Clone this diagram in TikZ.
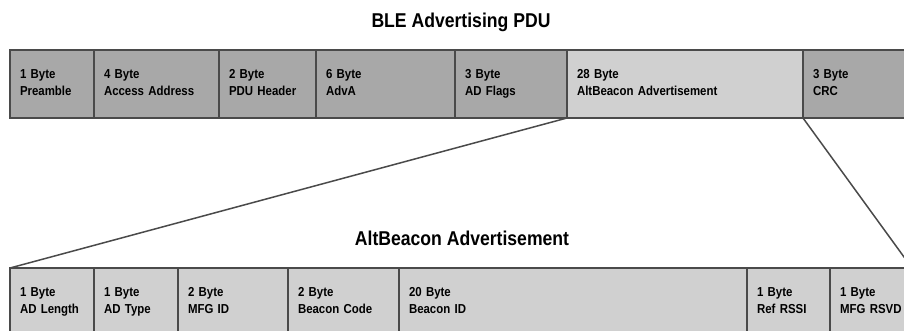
\documentclass[tikz,border=0pt]{standalone}
\usepackage{fontspec}
\setmainfont{Liberation Sans}
\newfontfamily\pdufont[FakeStretch=0.88]{Liberation Sans}

\definecolor{darkfield}{HTML}{A8A8A8}
\definecolor{lightfield}{HTML}{D0D0D0}
\definecolor{edgegray}{HTML}{4A4A4A}

\tikzset{
  field/.style={draw=edgegray, line width=1.5pt, minimum height=68pt, inner xsep=10pt,
    inner ysep=0pt, outer sep=0pt, align=left, anchor=north west,
    font=\pdufont\bfseries\fontsize{13}{17}\selectfont,
    execute at begin node=\strut, execute at end node=\strut},
  heading/.style={font=\pdufont\bfseries\fontsize{20}{24}\selectfont}
}

\begin{document}
\begin{tikzpicture}[x=1pt,y=-1pt]
    \clip (0,0) rectangle (904,331);
    \node[heading] (bletitle) at (461,22) {BLE Advertising PDU};
    \node[field,fill=darkfield,text width=64pt] (pre) at (10,50) {1 Byte\\Preamble};
    \node[field,fill=darkfield,text width=105pt] (acc) at (pre.north east) {4 Byte\\Access Address};
    \node[field,fill=darkfield,text width=77pt] (hdr) at (acc.north east) {2 Byte\\PDU Header};
    \node[field,fill=darkfield,text width=119pt] (adva) at (hdr.north east) {6 Byte\\AdvA};
    \node[field,fill=darkfield,text width=92pt] (flags) at (adva.north east) {3 Byte\\AD Flags};
    \node[field,fill=lightfield,text width=216pt] (alt) at (flags.north east) {28 Byte\\AltBeacon Advertisement};
    \node[field,fill=darkfield,text width=89pt] (crc) at (alt.north east) {3 Byte\\CRC};

    \node[heading] (alttitle) at (462,238) {AltBeacon Advertisement};
    \node[field,fill=lightfield,text width=64pt] (len) at (10,268) {1 Byte\\AD Length};
    \node[field,fill=lightfield,text width=64pt] (type) at (len.north east) {1 Byte\\AD Type};
    \node[field,fill=lightfield,text width=90pt] (mfg) at (type.north east) {2 Byte\\MFG ID};
    \node[field,fill=lightfield,text width=91pt] (code) at (mfg.north east) {2 Byte\\Beacon Code};
    \node[field,fill=lightfield,text width=328pt] (bid) at (code.north east) {20 Byte\\Beacon ID};
    \node[field,fill=lightfield,text width=63pt] (rssi) at (bid.north east) {1 Byte\\Ref RSSI};
    \node[field,fill=lightfield,text width=62pt] (rsvd) at (rssi.north east) {1 Byte\\MFG RSVD};

    \draw[edgegray,line width=1.5pt] (alt.south west) -- (len.north west);
    \draw[edgegray,line width=1.5pt] (crc.south west) -- (rsvd.north east);
\end{tikzpicture}
\end{document}
